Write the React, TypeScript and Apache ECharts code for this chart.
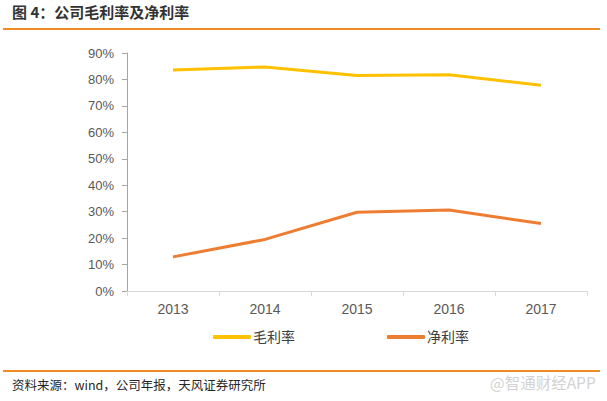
import React, { useEffect, useRef } from "react";
import * as echarts from "echarts";

const years = ["2013", "2014", "2015", "2016", "2017"];
const grossMargin = [83.6, 84.7, 81.5, 81.8, 77.8];
const netMargin = [12.9, 19.5, 29.8, 30.6, 25.5];
const seriesNames = ["毛利率", "净利率"];
const titleText = "图 4：公司毛利率及净利率";
const sourceText = "资料来源：wind，公司年报，天风证券研究所";
const watermarkText = "@智通财经APP";

export default function App() {
  const ref = useRef<HTMLDivElement>(null);
  useEffect(() => {
    if (!ref.current) return;
    const chart = echarts.init(ref.current, undefined, { renderer: "svg" });
    const cjk = "'Liberation Sans', 'Noto Sans CJK SC', sans-serif";
    chart.setOption({
      animation: false,
      backgroundColor: "#ffffff",
      textStyle: { fontFamily: cjk },
      grid: { left: 127, right: 20, top: 53, bottom: 110, containLabel: false },
      legend: {
        left: 208,
        top: 325,
        itemWidth: 38,
        itemHeight: 4,
        itemGap: 92,
        icon: "roundRect",
        textStyle: { fontSize: 14, color: "#404040", fontFamily: cjk, padding: [0, 0, 0, -3] },
        data: seriesNames,
      },
      xAxis: {
        type: "category",
        data: years,
        boundaryGap: true,
        axisLine: { lineStyle: { color: "#d9d9d9", width: 1 } },
        axisTick: { show: true, length: 5, lineStyle: { color: "#d9d9d9" } },
        axisLabel: { color: "#595959", fontSize: 14, margin: 11, fontFamily: cjk },
      },
      yAxis: {
        type: "value",
        min: 0,
        max: 90,
        interval: 10,
        axisLine: { show: true, lineStyle: { color: "#a6a6a6", width: 1 } },
        axisTick: { show: true, length: 5, lineStyle: { color: "#a6a6a6" } },
        splitLine: { show: false },
        axisLabel: { color: "#595959", fontSize: 13, margin: 13, formatter: "{value}%", fontFamily: cjk },
      },
      series: [
        {
          name: seriesNames[0],
          type: "line",
          data: grossMargin,
          symbol: "none",
          lineStyle: { color: "#FFC000", width: 3 },
          itemStyle: { color: "#FFC000" },
        },
        {
          name: seriesNames[1],
          type: "line",
          data: netMargin,
          symbol: "none",
          lineStyle: { color: "#ED7D31", width: 3 },
          itemStyle: { color: "#ED7D31" },
        },
      ],
      graphic: [
        {
          type: "text",
          left: 12,
          top: 4,
          style: { text: titleText, fill: "#333333", font: "bold 15px 'Noto Sans CJK SC', sans-serif" },
        },
        {
          type: "line",
          shape: { x1: 3, y1: 29, x2: 600, y2: 29 },
          style: { stroke: "#F08A24", lineWidth: 2 },
        },
        {
          type: "line",
          shape: { x1: 3, y1: 371, x2: 600, y2: 371 },
          style: { stroke: "#F08A24", lineWidth: 2 },
        },
        {
          type: "text",
          left: 12,
          top: 378,
          style: { text: sourceText, fill: "#262626", font: "12.5px 'Noto Sans CJK SC', sans-serif" },
        },
        {
          type: "text",
          left: 490,
          top: 374,
          style: { text: watermarkText, fill: "#d3d3d3", font: "15.5px 'Noto Sans CJK SC', sans-serif" },
        },
      ],
    });
    return () => chart.dispose();
  }, []);
  return <div ref={ref} style={{ width: 607, height: 401, position: "absolute", left: 0, top: 0 }} />;
}
